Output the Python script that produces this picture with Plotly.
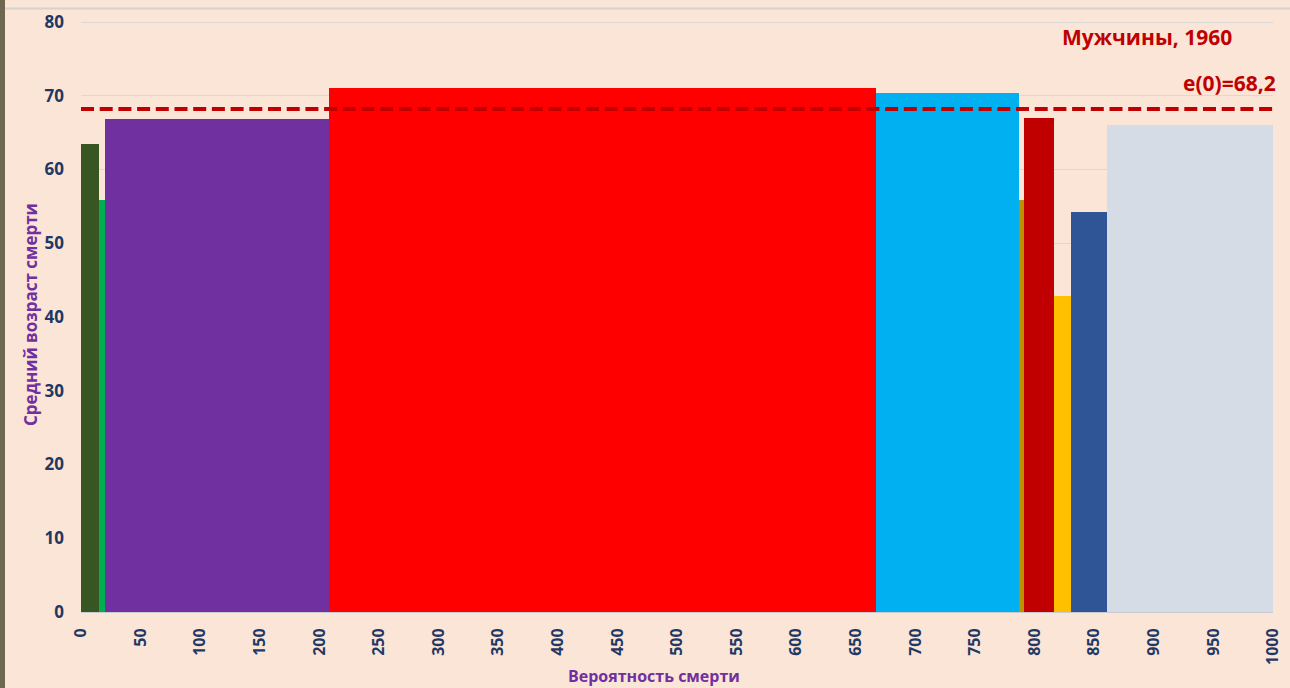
import numpy as np
import plotly.graph_objects as go

# Probability of death by cause (per 1000) -> bar widths
death_prob = [15.1, 5.0, 188.1, 458.6, 119.7, 4.5, 25.0, 14.5, 30.2, 139.3]
# Mean age at death for each cause -> bar heights
mean_age = [63.4, 55.8, 66.85, 71.05, 70.4, 55.9, 67.0, 42.85, 54.2, 66.0]
bar_colors = ["#375623", "#00B050", "#7030A0", "#FF0000", "#00B0F0",
              "#BF9000", "#C00000", "#FFC000", "#2F5597", "#D6DCE5"]

e0 = 68.2
x_ticks = list(range(0, 1001, 50))
y_ticks = list(range(0, 81, 10))

left_edges = np.concatenate([[0], np.cumsum(death_prob)[:-1]])

BG = "#FBE5D6"
TICK_COLOR = "#1F3864"
FONT = "Open Sans"

# plot-area geometry in pixels (used to place free text in paper units)
L, R, T, B = 81, 1273, 20, 612
W, H = R - L, B - T
Y_MAX = 80 * H / (B - 22)  # leaves a little headroom so the 80 gridline shows


def px(xp):
    return (xp - L) / W


def py(yp):
    return (B - yp) / H


fig = go.Figure()
fig.add_trace(go.Bar(
    x=left_edges,
    y=mean_age,
    width=death_prob,
    offset=0,
    marker=dict(color=bar_colors, line=dict(width=0)),
    showlegend=False,
    hoverinfo="x+y",
))

# life expectancy line
fig.add_trace(go.Scatter(
    x=[0, 1000], y=[e0, e0], mode="lines",
    line=dict(color="#C00000", width=4, dash="13px,5.7px"),
    showlegend=False, hoverinfo="skip",
))

fig.update_layout(
    width=1290, height=688,
    margin=dict(l=L, r=1290 - R, t=T, b=688 - B, autoexpand=False),
    paper_bgcolor=BG, plot_bgcolor=BG,
    bargap=0,
    font=dict(family=FONT),
    xaxis=dict(
        range=[0, 1000], tickvals=x_ticks, ticktext=[str(v) for v in x_ticks],
        tickangle=-90, showgrid=False, zeroline=False,
        showline=True, linecolor="#C9CBD3", linewidth=1,
        ticks="", automargin=False, ticklabelstandoff=9,
        tickfont=dict(family=FONT, size=16, color=TICK_COLOR, weight="bold"),
    ),
    yaxis=dict(
        range=[0, Y_MAX], tickvals=y_ticks, showgrid=True, gridcolor="#D9D9D9",
        gridwidth=1, zeroline=False, showline=False, ticks="", automargin=False,
        ticklabelstandoff=16,
        tickfont=dict(family=FONT, size=17, color=TICK_COLOR, weight="bold"),
    ),
    annotations=[
        dict(text="Вероятность смерти", xref="paper", yref="paper",
             x=px(654), y=py(676), xanchor="center", yanchor="middle", showarrow=False,
             font=dict(family=FONT, size=16, color="#7030A0", weight="bold")),
        dict(text="Средний возраст смерти", xref="paper", yref="paper", textangle=-90,
             x=px(30), y=py(315), xanchor="center", yanchor="middle", showarrow=False,
             font=dict(family=FONT, size=17, color="#7030A0", weight="bold")),
        dict(text="Мужчины, 1960", xref="paper", yref="paper",
             x=px(1147), y=py(37), xanchor="center", yanchor="middle",
             showarrow=False, font=dict(family=FONT, size=21, color="#C00000", weight="bold")),
        dict(text="e(0)=68,2", xref="paper", yref="paper",
             x=px(1278), y=py(83), xanchor="right", yanchor="middle",
             showarrow=False, font=dict(family=FONT, size=21, color="#C00000", weight="bold")),
    ],
    shapes=[
        # window frame strip on the left and border line at the top
        dict(type="rect", xref="paper", yref="paper",
             x0=px(0), x1=px(5), y0=py(700), y1=py(-10),
             fillcolor="#6E6850", line=dict(width=0), layer="above"),
        dict(type="line", xref="paper", yref="paper",
             x0=px(5), x1=px(1290), y0=py(8.5), y1=py(8.5),
             line=dict(color="#D3D3CF", width=2), layer="above"),
    ],
)

fig.write_html("out.html")
